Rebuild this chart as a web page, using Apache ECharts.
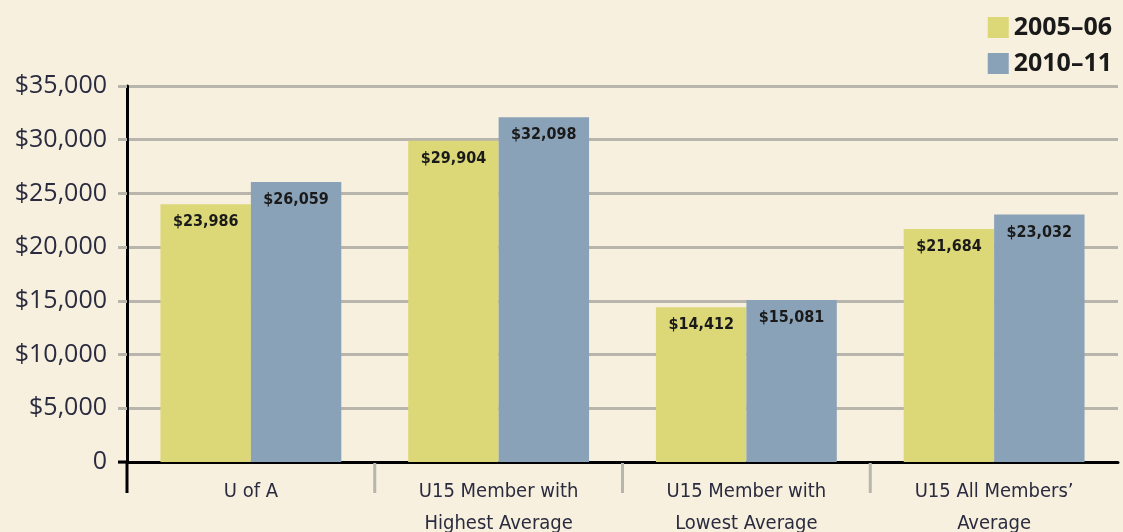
<!DOCTYPE html>
<html>
<head>
<meta charset="utf-8">
<script src="https://cdn.jsdelivr.net/npm/echarts@6/dist/echarts.min.js"></script>
<style>
  html, body { margin: 0; padding: 0; background: #f7f0de; }
  #chart { width: 1123px; height: 532px; }
</style>
</head>
<body>
<div id="chart"></div>
<script>
// data
const categories = ['U of A', 'U15 Member with\nHighest Average', 'U15 Member with\nLowest Average', 'U15 All Members\u2019\nAverage']
const seriesNames = ['2005\u201306', '2010\u201311']
const values0506 = [23986, 29904, 14412, 21684]
const values1011 = [26059, 32098, 15081, 23032]
const yTicks = [0, 5000, 10000, 15000, 20000, 25000, 30000, 35000]

const money = v => '$' + v.toLocaleString('en-US')

let mChart = echarts.init(document.getElementById('chart'))

const barLabel = {
  show: true,
  position: 'insideTop',
  distance: 10,
  color: '#1a1a1a',
  fontFamily: 'Liberation Sans Narrow, DejaVu Sans Condensed, Roboto, sans-serif',
  fontWeight: 'bold',
  fontSize: 16,
  formatter: p => money(p.value)
}

const options = {
  backgroundColor: '#f7f0de',
  animation: false,
  legend: {
    orient: 'vertical',
    right: 6,
    top: 10,
    itemWidth: 21,
    itemHeight: 21,
    itemGap: 11,
    icon: 'rect',
    data: seriesNames,
    textStyle: {
      fontFamily: 'Open Sans, Noto Sans, sans-serif',
      fontWeight: 'bold',
      fontSize: 25,
      color: '#1a1a1a'
    }
  },
  grid: {
    left: 127,
    right: 5,
    top: 86,
    bottom: 70,
    outerBoundsMode: 'none'
  },
  xAxis: {
    type: 'category',
    data: categories,
    axisLine: { lineStyle: { color: '#000', width: 3 } },
    axisTick: { show: false },
    axisLabel: {
      margin: 14,
      color: '#2b2b40',
      fontFamily: 'Liberation Sans Narrow, DejaVu Sans Condensed, Roboto, sans-serif',
      fontSize: 20,
      lineHeight: 32
    }
  },
  yAxis: {
    type: 'value',
    min: 0,
    max: yTicks[yTicks.length - 1],
    interval: 5000,
    axisLine: { show: true, lineStyle: { color: '#000', width: 3 } },
    axisTick: { show: true, length: 9, lineStyle: { color: '#b8b5ad', width: 3 } },
    splitLine: { lineStyle: { color: '#b8b5ad', width: 3 } },
    axisLabel: {
      margin: 20,
      color: '#2b2b40',
      fontFamily: 'Open Sans, Noto Sans, sans-serif',
      fontSize: 25,
      formatter: v => v === 0 ? '0' : money(v)
    }
  },
  series: [
    {
      name: seriesNames[0],
      type: 'bar',
      data: values0506,
      barGap: '0%',
      barCategoryGap: '27%',
      itemStyle: { color: '#dcd877' },
      label: barLabel
    },
    {
      name: seriesNames[1],
      type: 'bar',
      data: values1011,
      barGap: '0%',
      barCategoryGap: '27%',
      itemStyle: { color: '#8aa2b8' },
      label: barLabel
    }
  ]
}

mChart.setOption(options)

// 轴装饰：y轴黑线向下延伸，类目之间的灰色刻度（最右端不画）
const y0 = mChart.convertToPixel({ yAxisIndex: 0 }, 0)
const x0 = mChart.getModel().getComponent('grid').coordinateSystem.getRect().x
const centers = categories.map(c => mChart.convertToPixel({ xAxisIndex: 0 }, c))
const graphics = [{
  type: 'line',
  shape: { x1: x0, y1: y0, x2: x0, y2: y0 + 31 },
  style: { stroke: '#000', lineWidth: 3 },
  z: 10
}, {
  type: 'line',
  shape: { x1: x0 - 9, y1: y0, x2: x0, y2: y0 },
  style: { stroke: '#000', lineWidth: 3 },
  z: 10
}]
for (let i = 0; i < centers.length - 1; i++) {
  const bx = (centers[i] + centers[i + 1]) / 2
  graphics.push({
    type: 'line',
    shape: { x1: bx, y1: y0 + 1, x2: bx, y2: y0 + 31 },
    style: { stroke: '#b8b5ad', lineWidth: 3 },
    z: 9
  })
}
mChart.setOption({ graphic: graphics })
</script>
</body>
</html>
